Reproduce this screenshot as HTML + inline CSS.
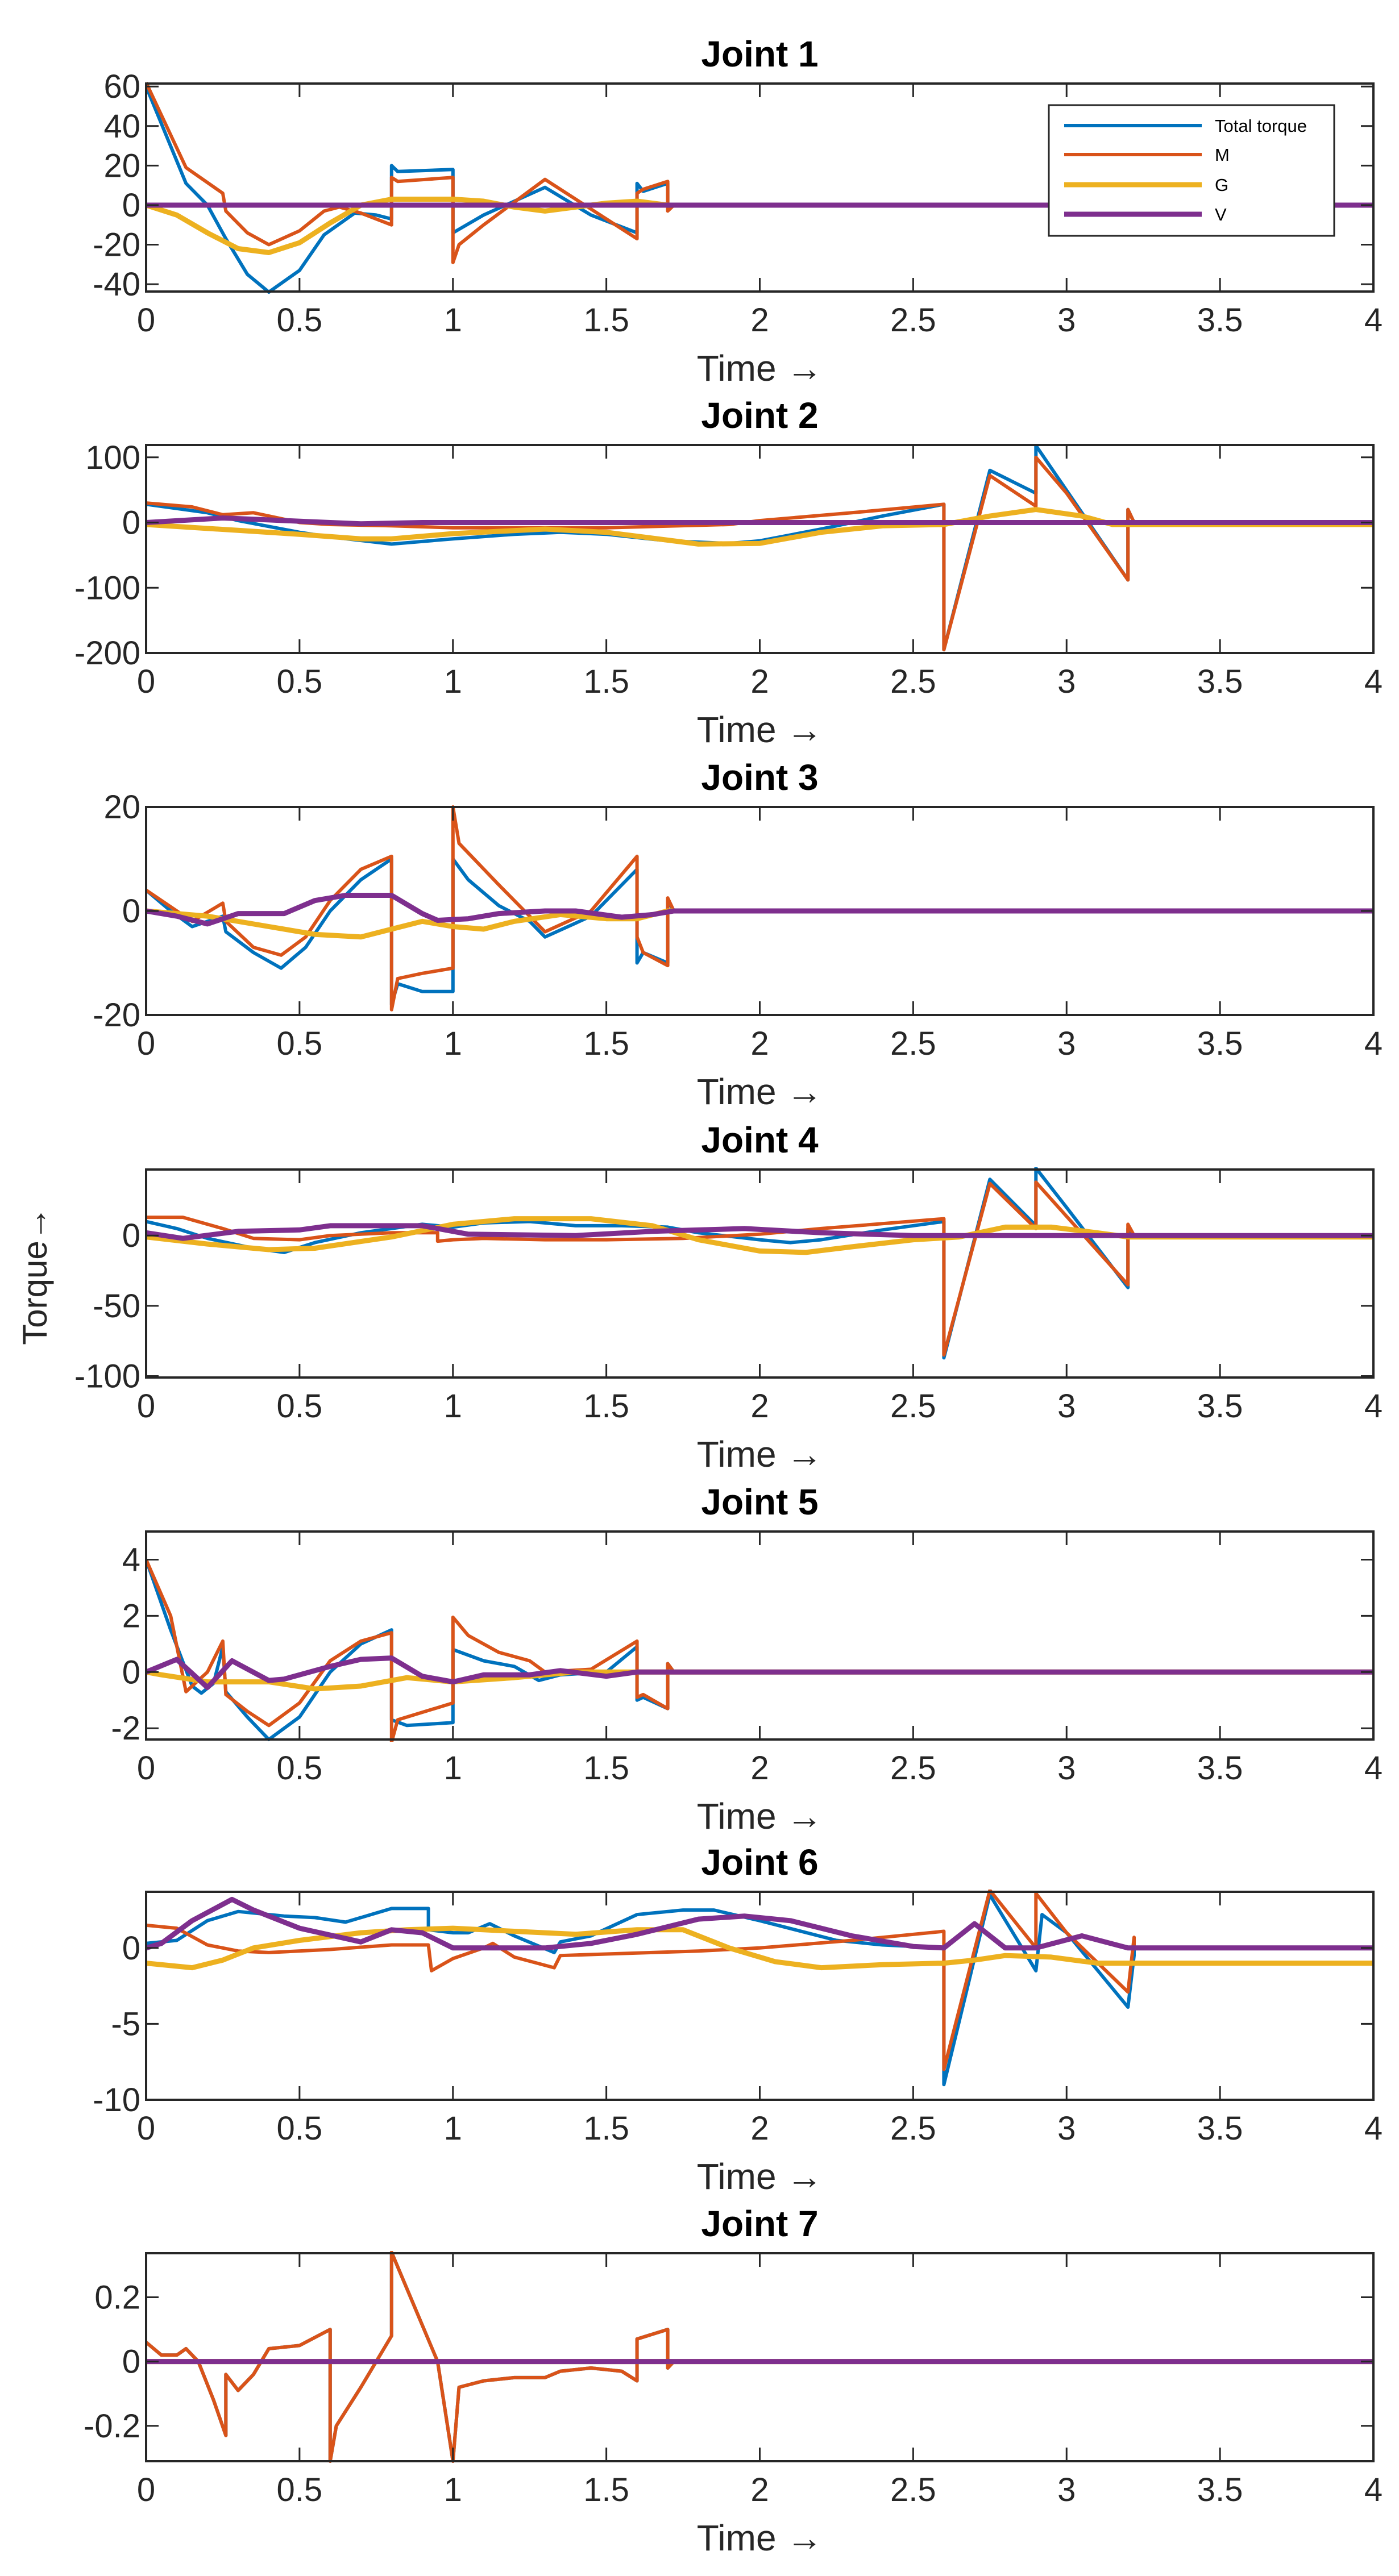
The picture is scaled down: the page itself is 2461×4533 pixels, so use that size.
<!DOCTYPE html>
<html><head><meta charset="utf-8"><style>
html,body{margin:0;padding:0;background:#fff;}
svg{display:block;font-family:"Liberation Sans",Arial,sans-serif;}
</style></head><body>
<svg id="chart" width="2461" height="4533" viewBox="0 0 2461 4533" xmlns="http://www.w3.org/2000/svg"></svg>
<script>
// ---- data ----
const joints = ["Joint 1","Joint 2","Joint 3","Joint 4","Joint 5","Joint 6","Joint 7"];
const seriesNames = ["Total torque","M","G","V"];
const xTicks = [0,0.5,1,1.5,2,2.5,3,3.5,4];
const xTickLabels = ["0","0.5","1","1.5","2","2.5","3","3.5","4"];
const yRanges = [[-43.7,61.5],[-200,119],[-20,20],[-101,47],[-2.4,5],[-10,3.7],[-0.31,0.337]];
const yTicks = [[-40,-20,0,20,40,60],[-200,-100,0,100],[-20,0,20],[-100,-50,0],[-2,0,2,4],[-10,-5,0],[-0.2,0,0.2]];

const j1Total=[[0,60],[0.13,11],[0.2,0],[0.26,-17],[0.33,-35],[0.4,-44],[0.5,-33],[0.58,-15],[0.68,-4],[0.75,-5],[0.8,-7],[0.8,20],[0.82,17],[1.0,18],[1.0,-14],[1.1,-5],[1.3,9],[1.45,-5],[1.6,-14],[1.6,11],[1.62,7],[1.7,11],[1.7,-1],[1.72,0],[4,0]];
const j1M=[[0,62],[0.13,19],[0.25,6],[0.26,-3],[0.33,-14],[0.4,-20],[0.5,-13],[0.58,-3],[0.63,-1],[0.7,-4],[0.8,-10],[0.8,14],[0.82,12],[1.0,14],[1.0,-29],[1.02,-20],[1.1,-10],[1.3,13],[1.45,-2],[1.6,-17],[1.6,6],[1.62,8],[1.7,12],[1.7,-3],[1.72,0],[4,0]];
const j1G=[[0,0],[0.1,-5],[0.2,-14],[0.3,-22],[0.4,-24],[0.5,-19],[0.6,-9],[0.7,0],[0.8,3],[0.9,3],[1.0,3],[1.1,2],[1.2,-1],[1.3,-3],[1.4,-1],[1.5,1],[1.6,2],[1.7,0],[4,0]];
const j1V=[[0,0],[4,0]];

const j2Total=[[0,28],[0.2,15],[0.3,3],[0.5,-15],[0.6,-22],[0.8,-33],[1.0,-25],[1.2,-18],[1.35,-15],[1.5,-18],[1.7,-28],[1.9,-32],[2.0,-28],[2.2,-10],[2.4,10],[2.6,28],[2.6,-195],[2.75,80],[2.9,45],[2.9,118],[3.05,15],[3.2,-88],[3.2,20],[3.22,0],[4,0]];
const j2M=[[0,30],[0.15,24],[0.25,12],[0.35,15],[0.5,0],[0.6,-3],[0.8,-5],[1.0,-8],[1.5,-8],[1.9,-3],[2.0,3],[2.3,15],[2.6,28],[2.6,-195],[2.75,72],[2.9,25],[2.9,100],[3.0,45],[3.2,-88],[3.2,20],[3.22,0],[4,0]];
const j2G=[[0,-3],[0.3,-12],[0.5,-18],[0.7,-25],[0.8,-25],[1.0,-17],[1.3,-10],[1.5,-15],[1.8,-33],[2.0,-32],[2.2,-15],[2.4,-5],[2.6,-3],[2.75,10],[2.9,20],[3.05,10],[3.15,-3],[4,-3]];
const j2V=[[0,0],[0.25,7],[0.4,4],[0.55,1],[0.7,-2],[0.9,0],[1.2,0],[1.5,0],[1.9,0],[4,0]];

const j3Total=[[0,4],[0.08,0],[0.15,-3],[0.2,-2],[0.25,-1],[0.26,-4],[0.35,-8],[0.44,-11],[0.52,-7],[0.6,0],[0.7,6],[0.8,10],[0.8,-18],[0.82,-14],[0.9,-15.5],[1.0,-15.5],[1.0,10],[1.05,6],[1.15,1],[1.25,-2],[1.3,-5],[1.45,-1],[1.6,8],[1.6,-10],[1.62,-8],[1.7,-10],[1.7,2],[1.72,0],[4,0]];
const j3M=[[0,4],[0.1,0],[0.15,-2],[0.25,1.5],[0.26,-2],[0.35,-7],[0.44,-8.5],[0.52,-5],[0.6,2],[0.7,8],[0.8,10.5],[0.8,-19],[0.82,-13],[0.9,-12],[1.0,-11],[1.0,20],[1.02,13],[1.15,5],[1.3,-4],[1.45,0],[1.6,10.5],[1.6,-5],[1.62,-8],[1.7,-10.5],[1.7,2.5],[1.72,0],[4,0]];
const j3G=[[0,0],[0.2,-1],[0.4,-3],[0.55,-4.5],[0.7,-5],[0.8,-3.5],[0.9,-2],[1.0,-3],[1.1,-3.5],[1.2,-2],[1.35,-0.7],[1.5,-1.5],[1.6,-1.5],[1.7,0],[4,0]];
const j3V=[[0,0],[0.1,-1],[0.2,-2.5],[0.3,-0.5],[0.45,-0.5],[0.55,2],[0.65,3],[0.8,3],[0.9,-0.5],[0.95,-1.8],[1.05,-1.5],[1.15,-0.5],[1.3,0],[1.4,0],[1.55,-1.2],[1.65,-0.7],[1.72,0],[4,0]];

const j4Total=[[0,10],[0.1,5],[0.2,-2],[0.35,-9],[0.45,-12],[0.55,-5],[0.7,2],[0.9,8],[1.0,6],[1.1,9],[1.25,10],[1.4,7],[1.55,7],[1.7,6],[1.8,2],[2.0,-3],[2.1,-5],[2.2,-3],[2.4,4],[2.6,10],[2.6,-87],[2.75,40],[2.9,7],[2.9,48],[3.0,20],[3.2,-37],[3.2,5],[3.22,0],[4,0]];
const j4M=[[0,13],[0.12,13],[0.25,5],[0.35,-2],[0.5,-3],[0.6,0],[0.8,2],[0.95,2],[0.95,-4],[1.0,-3],[1.1,-2],[1.3,-3],[1.5,-3],[1.75,-2],[2.0,1],[2.2,5],[2.6,12],[2.6,-85],[2.75,37],[2.9,5],[2.9,38],[3.2,-35],[3.2,8],[3.22,0],[4,0]];
const j4G=[[0,-1],[0.2,-6],[0.4,-10],[0.55,-9],[0.8,-1],[1.0,8],[1.2,12],[1.45,12],[1.65,7],[1.8,-3],[2.0,-11],[2.15,-12],[2.3,-8],[2.5,-3],[2.65,-1],[2.8,6],[2.95,6],[3.1,2],[3.2,-1],[4,-1]];
const j4V=[[0,2],[0.12,-2],[0.3,3],[0.5,4],[0.6,7],[0.9,7],[1.05,1],[1.4,0],[1.65,3],[1.95,5],[2.2,2],[2.5,0],[4,0]];

const j5Total=[[0,4],[0.08,1.5],[0.15,-0.5],[0.18,-0.75],[0.22,-0.4],[0.25,0.9],[0.26,-0.7],[0.33,-1.6],[0.4,-2.4],[0.5,-1.6],[0.6,0],[0.7,1],[0.8,1.5],[0.8,-1.7],[0.85,-1.9],[1.0,-1.8],[1.0,0.8],[1.1,0.4],[1.2,0.2],[1.28,-0.3],[1.35,-0.1],[1.5,0],[1.6,0.9],[1.6,-1],[1.62,-0.9],[1.7,-1.3],[1.7,0.3],[1.72,0],[4,0]];
const j5M=[[0,4],[0.08,2],[0.13,-0.7],[0.2,0],[0.25,1.1],[0.26,-0.8],[0.33,-1.4],[0.4,-1.9],[0.5,-1.1],[0.6,0.4],[0.7,1.1],[0.8,1.4],[0.8,-2.5],[0.82,-1.7],[1.0,-1.1],[1.0,1.95],[1.05,1.3],[1.15,0.7],[1.25,0.4],[1.3,0],[1.45,0.1],[1.6,1.1],[1.6,-0.9],[1.62,-0.8],[1.7,-1.3],[1.7,0.3],[1.72,0],[4,0]];
const j5G=[[0,0],[0.05,-0.1],[0.2,-0.35],[0.4,-0.35],[0.55,-0.6],[0.7,-0.5],[0.85,-0.2],[1.0,-0.35],[1.2,-0.2],[1.4,0],[1.7,0],[4,0]];
const j5V=[[0,0],[0.1,0.45],[0.2,-0.55],[0.28,0.4],[0.4,-0.3],[0.45,-0.25],[0.6,0.2],[0.7,0.45],[0.8,0.5],[0.9,-0.15],[1.0,-0.35],[1.1,-0.1],[1.25,-0.1],[1.35,0.05],[1.5,-0.15],[1.6,0],[1.72,0],[4,0]];

const j6Total=[[0,0.3],[0.1,0.5],[0.2,1.8],[0.3,2.4],[0.45,2.1],[0.55,2],[0.65,1.7],[0.75,2.3],[0.8,2.6],[0.92,2.6],[0.92,1.2],[1.0,1],[1.05,1],[1.12,1.6],[1.2,0.8],[1.33,-0.3],[1.35,0.4],[1.45,0.8],[1.6,2.2],[1.75,2.5],[1.85,2.5],[2.0,1.8],[2.25,0.5],[2.4,0.2],[2.6,0],[2.6,-9],[2.75,3.5],[2.9,-1.5],[2.92,2.2],[3.0,1],[3.2,-3.9],[3.22,-0.5],[3.22,0],[4,0]];
const j6M=[[0,1.5],[0.1,1.3],[0.2,0.2],[0.3,-0.2],[0.4,-0.3],[0.6,-0.1],[0.8,0.2],[0.92,0.2],[0.93,-1.5],[1.0,-0.7],[1.1,0],[1.13,0.3],[1.2,-0.6],[1.33,-1.3],[1.35,-0.5],[1.5,-0.4],[1.8,-0.2],[2.0,0],[2.3,0.5],[2.6,1.1],[2.6,-8],[2.75,3.8],[2.9,0],[2.9,3.6],[3.0,1],[3.2,-2.9],[3.22,0.7],[3.22,0],[4,0]];
const j6G=[[0,-1],[0.15,-1.3],[0.25,-0.8],[0.35,0],[0.5,0.5],[0.7,1],[0.85,1.2],[1.0,1.3],[1.2,1.1],[1.4,0.9],[1.6,1.2],[1.75,1.2],[1.9,0],[2.05,-0.9],[2.2,-1.3],[2.4,-1.1],[2.6,-1],[2.7,-0.8],[2.8,-0.5],[2.95,-0.6],[3.1,-1],[4,-1]];
const j6V=[[0,0],[0.05,0.3],[0.15,1.8],[0.28,3.2],[0.35,2.5],[0.5,1.3],[0.7,0.4],[0.8,1.2],[0.9,1.0],[1.0,0],[1.1,0],[1.3,0],[1.45,0.3],[1.6,0.9],[1.8,1.9],[1.95,2.1],[2.1,1.8],[2.3,0.8],[2.5,0.1],[2.6,0],[2.7,1.6],[2.8,0],[2.9,0],[3.05,0.8],[3.2,0],[4,0]];

const j7Total=[[0,0.06],[0.05,0.02],[0.1,0.02],[0.13,0.04],[0.17,0],[0.22,-0.12],[0.26,-0.23],[0.26,-0.04],[0.3,-0.09],[0.35,-0.04],[0.4,0.04],[0.5,0.05],[0.6,0.1],[0.6,-0.31],[0.62,-0.2],[0.7,-0.08],[0.8,0.08],[0.8,0.34],[0.95,0],[1.0,-0.31],[1.02,-0.08],[1.1,-0.06],[1.2,-0.05],[1.3,-0.05],[1.35,-0.03],[1.45,-0.02],[1.55,-0.03],[1.6,-0.06],[1.6,0.07],[1.7,0.1],[1.7,-0.02],[1.72,0],[4,0]];
const j7M=[[0,0.06],[0.05,0.02],[0.1,0.02],[0.13,0.04],[0.17,0],[0.22,-0.12],[0.26,-0.23],[0.26,-0.04],[0.3,-0.09],[0.35,-0.04],[0.4,0.04],[0.5,0.05],[0.6,0.1],[0.6,-0.31],[0.62,-0.2],[0.7,-0.08],[0.8,0.08],[0.8,0.34],[0.95,0],[1.0,-0.31],[1.02,-0.08],[1.1,-0.06],[1.2,-0.05],[1.3,-0.05],[1.35,-0.03],[1.45,-0.02],[1.55,-0.03],[1.6,-0.06],[1.6,0.07],[1.7,0.1],[1.7,-0.02],[1.72,0],[4,0]];
const j7G=[[0,0],[4,0]];
const j7V=[[0,0],[4,0]];

const allSeries=[[j1Total,j1M,j1G,j1V],[j2Total,j2M,j2G,j2V],[j3Total,j3M,j3G,j3V],[j4Total,j4M,j4G,j4V],[j5Total,j5M,j5G,j5V],[j6Total,j6M,j6G,j6V],[j7Total,j7M,j7G,j7V]];

// ---- layout ----
const NS="http://www.w3.org/2000/svg";
const svg=document.getElementById('chart');
const colors=["#0072BD","#D95319","#EDB120","#7E2F8E"];
const widths=[6,6,9,9];
const X0=257,X1=2416,H=366;
const tops=[147,783,1420,2058,2695,3329,3965];
function mk(tag,attrs,parent){const e=document.createElementNS(NS,tag);for(const k in attrs)e.setAttribute(k,attrs[k]);(parent||svg).appendChild(e);return e;}
function fmt(v){return v<0?"-"+String(Math.abs(v)):String(v);}

joints.forEach((jn,i)=>{
  const top=tops[i],bot=top+H;
  const [y0,y1]=yRanges[i];
  const xs=t=>X0+(t-0)/(4-0)*(X1-X0);
  const ys=v=>bot-(v-y0)/(y1-y0)*H;
  const g=mk('g',{});
  
  
  const clipId='clip'+i;
  const cp=mk('clipPath',{id:clipId},g);mk('rect',{x:X0,y:top-4,width:X1-X0,height:H+8},cp);
  const ti=mk('text',{x:(X0+X1)/2,y:top-30,'text-anchor':'middle','font-size':64,'font-weight':'bold',fill:'#000'},g);
  ti.textContent=jn;
  
  
  const sg=mk('g',{'clip-path':'url(#'+clipId+')'},g);
  allSeries[i].forEach((pts,s)=>{
    const d=pts.map((p,k)=>(k?'L':'M')+xs(p[0]).toFixed(1)+' '+ys(p[1]).toFixed(1)).join(' ');
    const pth=mk('path',{d:d,fill:'none',stroke:colors[s],'stroke-width':widths[s],'stroke-linejoin':'round'},sg);
    
    
  });
  const bx=mk('rect',{x:X0,y:top,width:X1-X0,height:H,fill:'none',stroke:'#262626','stroke-width':4},g);
  
  
  xTicks.forEach((t,k)=>{
    const x=xs(t);
    mk('line',{x1:x,y1:bot,x2:x,y2:bot-24,stroke:'#262626','stroke-width':3},g);
    mk('line',{x1:x,y1:top,x2:x,y2:top+24,stroke:'#262626','stroke-width':3},g);
    const lb=mk('text',{x:x,y:bot+70,'text-anchor':'middle','font-size':58,fill:'#262626'},g);
    lb.textContent=xTickLabels[k];
    
    
  });
  yTicks[i].forEach(v=>{
    const y=ys(v);
    mk('line',{x1:X0,y1:y,x2:X0+22,y2:y,stroke:'#262626','stroke-width':3},g);
    mk('line',{x1:X1,y1:y,x2:X1-22,y2:y,stroke:'#262626','stroke-width':3},g);
    const lb=mk('text',{x:X0-10,y:y+20,'text-anchor':'end','font-size':58,fill:'#262626'},g);
    lb.textContent=fmt(v);
    
    
  });
  const xl=mk('text',{x:(X0+X1)/2,y:bot+157,'text-anchor':'middle','font-size':64,fill:'#262626'},g);
  xl.textContent='Time \u2192';
  
  
});

const yl=mk('text',{x:0,y:0,'text-anchor':'middle','font-size':60,fill:'#262626',transform:'translate(82,2245) rotate(-90)'});
yl.textContent='Torque\u2192';



const lg=mk('g',{});


mk('rect',{x:1845,y:185,width:502,height:230,fill:'#fff',stroke:'#262626','stroke-width':3},lg);
const legY=[221,272,325,377];
seriesNames.forEach((n,s)=>{
  const e=mk('g',{},lg);
  
  
  mk('line',{x1:1872,y1:legY[s],x2:2114,y2:legY[s],stroke:colors[s],'stroke-width':widths[s]},e);
  const t=mk('text',{x:2137,y:legY[s]+11,'font-size':31,fill:'#000'},e);
  t.textContent=n;
});
</script>
</body></html>
